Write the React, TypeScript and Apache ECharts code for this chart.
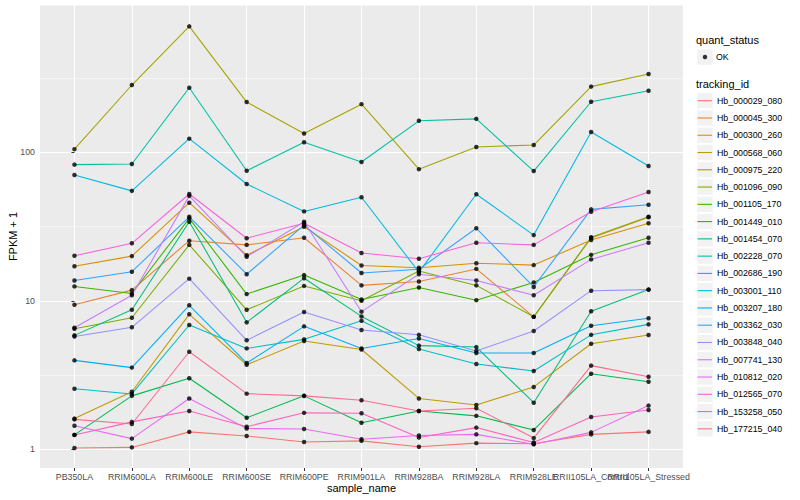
import React, { useEffect, useRef } from 'react';
import * as echarts from 'echarts';

const FONT = "'Liberation Sans', Arial, Helvetica, sans-serif";

const samples = [
  'PB350LA', 'RRIM600LA', 'RRIM600LE', 'RRIM600SE', 'RRIM600PE', 'RRIM901LA',
  'RRIM928BA', 'RRIM928LA', 'RRIM928LE', 'RRII105LA_Control', 'RRII105LA_Stressed',
];

const trackingIds = [
  'Hb_000029_080', 'Hb_000045_300', 'Hb_000300_260', 'Hb_000568_060', 'Hb_000975_220',
  'Hb_001096_090', 'Hb_001105_170', 'Hb_001449_010', 'Hb_001454_070', 'Hb_002228_070',
  'Hb_002686_190', 'Hb_003001_110', 'Hb_003207_180', 'Hb_003362_030', 'Hb_003848_040',
  'Hb_007741_130', 'Hb_010812_020', 'Hb_012565_070', 'Hb_153258_050', 'Hb_177215_040',
];

const colors = [
  '#F8766D', '#EA8331', '#D89000', '#C09B00', '#A3A500', '#7CAE00', '#39B600', '#00BB4E',
  '#00BF7D', '#00C1A3', '#00BFC4', '#00BAE0', '#00B0F6', '#35A2FF', '#9590FF', '#C77CFF',
  '#E76BF3', '#FA62DB', '#FF62BC', '#FF6C91',
];

// FPKM + 1 per sample (same order as samples)
const hb000029_080 = [1.02, 1.03, 1.31, 1.23, 1.12, 1.14, 1.04, 1.10, 1.09, 1.26, 1.31];
const hb000045_300 = [9.4, 11.8, 25.4, 23.8, 26.6, 12.7, 13.5, 16.4, 7.8, 26.5, 36.5];
const hb000300_260 = [17.1, 20.0, 45.8, 20.3, 31.5, 17.3, 16.7, 17.9, 17.4, 25.7, 33.3];
const hb000568_060 = [1.61, 2.44, 8.11, 3.71, 5.36, 4.7, 2.2, 1.99, 2.63, 5.14, 5.89];
const hb000975_220 = [105, 284, 705, 218, 134, 211, 77, 108.6, 112, 277, 337];
const hb001096_090 = [6.49, 7.69, 23.8, 8.7, 12.6, 10.0, 15.9, 12.7, 7.8, 26.8, 36.8];
const hb001105_170 = [12.5, 11.2, 35.9, 11.1, 14.9, 10.2, 12.3, 10.1, 13.3, 20.4, 26.6];
const hb001449_010 = [1.25, 2.29, 3.01, 1.63, 2.29, 1.51, 1.81, 1.68, 1.35, 3.23, 2.85];
const hb001454_070 = [5.85, 8.71, 34.1, 7.16, 14.2, 7.85, 4.99, 4.88, 2.06, 8.5, 11.9];
const hb002228_070 = [82.6, 83.4, 272, 75.2, 117, 86, 163, 168, 74.8, 219, 260];
const hb002686_190 = [2.56, 2.36, 6.87, 4.78, 5.5, 7.34, 4.73, 3.75, 3.37, 5.9, 6.94];
const hb003001_110 = [70.3, 55, 123.6, 61.2, 40, 49.8, 15.6, 52.2, 27.7, 137, 80.9];
const hb003207_180 = [3.97, 3.55, 9.33, 3.81, 6.73, 4.78, 5.58, 4.45, 4.45, 6.8, 7.63];
const hb003362_030 = [13.7, 15.7, 36.8, 15.1, 32.3, 15.4, 16.3, 30.8, 12.4, 41.3, 44.4];
const hb003848_040 = [5.75, 6.63, 14.1, 5.42, 8.4, 6.36, 5.9, 4.59, 6.26, 11.7, 11.9];
const hb007741_130 = [6.59, 10.9, 50.9, 19.8, 34.1, 8.45, 15.1, 13.7, 10.9, 19.0, 24.6];
const hb010812_020 = [1.44, 1.18, 2.2, 1.38, 1.37, 1.17, 1.24, 1.26, 1.08, 1.30, 1.97];
const hb012565_070 = [20.1, 24.4, 52.4, 26.4, 33.3, 21.0, 19.2, 24.6, 23.8, 39.8, 54];
const hb153258_050 = [1.25, 1.53, 1.81, 1.42, 1.76, 1.75, 1.20, 1.40, 1.11, 1.65, 1.84];
const hb177215_040 = [1.59, 1.48, 4.54, 2.37, 2.29, 2.14, 1.81, 1.89, 1.19, 3.66, 3.08];

const seriesValues = [
  hb000029_080, hb000045_300, hb000300_260, hb000568_060, hb000975_220,
  hb001096_090, hb001105_170, hb001449_010, hb001454_070, hb002228_070,
  hb002686_190, hb003001_110, hb003207_180, hb003362_030, hb003848_040,
  hb007741_130, hb010812_020, hb012565_070, hb153258_050, hb177215_040,
];

const quantStatus = ['OK'];
const yTickLabels = ['1', '10', '100'];
const yTickValues = [1, 10, 100];
const sampleTickValues = samples.map((_, i) => i);
// labels are split over two overlaid axes so that ECharts does not drop overlapping ones
const evenSampleTicks = sampleTickValues.filter((i) => i % 2 === 0);
const oddSampleTicks = sampleTickValues.filter((i) => i % 2 === 1);

// panel (ggplot) extent in data units
const Y_MIN = 0.7483;
const Y_MAX = 982;
const X_MIN = -0.6;
const X_MAX = 10.6;

export default function App() {
  const ref = useRef<HTMLDivElement>(null);

  useEffect(() => {
    const chart = echarts.init(ref.current as HTMLDivElement, null, { renderer: 'svg' });

    const lineSeries = trackingIds.map((id, k) => ({
      name: id,
      type: 'line',
      xAxisIndex: 0,
      yAxisIndex: 0,
      data: seriesValues[k].map((v, i) => [i, v]),
      symbol: 'none',
      showSymbol: false,
      color: colors[k],
      itemStyle: { color: colors[k] },
      lineStyle: { color: colors[k], width: 1.07 },
      z: 2,
      silent: true,
      animation: false,
    }));

    const pointData: number[][] = [];
    seriesValues.forEach((vals) => vals.forEach((v, i) => pointData.push([i, v])));

    const keyTop = 92.07;
    const keyStep = 17.27;

    const graphics: any[] = [
      { type: 'text', left: 696, top: 34, style: { text: 'quant_status', fontSize: 11, fill: '#000', fontFamily: FONT } },
      { type: 'rect', shape: { x: 697.3, y: 49.4, width: 15.4, height: 15.4 }, style: { fill: '#F2F2F2' }, z: 0, silent: true },
      { type: 'text', left: 696, top: 78, style: { text: 'tracking_id', fontSize: 11, fill: '#000', fontFamily: FONT } },
      ...trackingIds.map((_, i) => ({
        type: 'rect',
        shape: { x: 697.3, y: keyTop + keyStep * i + 0.95, width: 15.4, height: 15.4 },
        style: { fill: '#F2F2F2' },
        z: 0,
        silent: true,
      })),
    ];

    const isDecade = (v: number) => {
      const l = Math.log10(v);
      return Math.abs(l - Math.round(l)) < 1e-6;
    };

    const labelFor = (allowed: number[]) => (v: number) => {
      const r = Math.round(v);
      return Math.abs(v - r) < 1e-6 && allowed.indexOf(r) >= 0 ? samples[r] : '';
    };

    const xLabelBase = {
      show: true,
      fontSize: 8.8,
      color: '#4D4D4D',
      margin: 4,
      fontFamily: FONT,
      hideOverlap: false,
      showMinLabel: true,
      showMaxLabel: true,
    };

    chart.setOption({
      animation: false,
      backgroundColor: '#FFFFFF',
      textStyle: { fontFamily: FONT },
      grid: {
        left: 40, top: 5, width: 643, height: 463,
        show: true, backgroundColor: '#EBEBEB', borderWidth: 0, borderColor: 'transparent',
        containLabel: false, outerBoundsMode: 'none',
      },
      xAxis: [
        {
          type: 'value',
          position: 'bottom',
          offset: 0,
          min: X_MIN,
          max: X_MAX,
          splitNumber: 11,
          minInterval: 1,
          maxInterval: 1,
          name: 'sample_name',
          nameLocation: 'middle',
          nameGap: 13.8,
          nameMoveOverlap: false,
          nameTextStyle: { fontSize: 11, color: '#000', fontFamily: FONT, lineHeight: 13 },
          axisLine: { show: false },
          axisTick: { show: true, length: 3, lineStyle: { color: '#333333', width: 1 }, customValues: sampleTickValues },
          axisLabel: { ...xLabelBase, customValues: evenSampleTicks, formatter: labelFor(evenSampleTicks) },
          splitLine: { show: true, lineStyle: { color: '#FFFFFF', width: 1.07 } },
        },
        {
          type: 'value',
          position: 'bottom',
          offset: 0,
          min: X_MIN,
          max: X_MAX,
          splitNumber: 11,
          minInterval: 1,
          maxInterval: 1,
          axisLine: { show: false },
          axisTick: { show: false },
          axisLabel: { ...xLabelBase, customValues: oddSampleTicks, formatter: labelFor(oddSampleTicks) },
          splitLine: { show: false },
        },
      ],
      yAxis: [
        {
          type: 'log',
          logBase: 10,
          min: Y_MIN,
          max: Y_MAX,
          name: 'FPKM + 1',
          nameLocation: 'middle',
          nameGap: 20.5,
          nameMoveOverlap: false,
          nameTextStyle: { fontSize: 11, color: '#000', fontFamily: FONT, lineHeight: 13 },
          axisLine: { show: false },
          axisTick: { show: true, length: 3, lineStyle: { color: '#333333', width: 1 }, customValues: yTickValues },
          axisLabel: {
            fontSize: 8.8,
            color: '#4D4D4D',
            margin: 5,
            fontFamily: FONT,
            showMinLabel: true,
            showMaxLabel: true,
            formatter: (v: number) => {
              if (!isDecade(v)) return '';
              const lbl = String(Math.round(v));
              return yTickLabels.indexOf(lbl) >= 0 ? lbl : '';
            },
          },
          splitLine: { show: true, lineStyle: { color: '#FFFFFF', width: 1.07 } },
          minorTick: { show: false },
          minorSplitLine: { show: false },
        },
        {
          // minor breaks (half-decades): same scale shifted by sqrt(10)
          type: 'log',
          logBase: 10,
          min: Y_MIN / Math.sqrt(10),
          max: Y_MAX / Math.sqrt(10),
          position: 'left',
          axisLine: { show: false },
          axisTick: { show: false },
          axisLabel: { show: false },
          splitLine: { show: true, lineStyle: { color: '#FFFFFF', width: 0.53 } },
        },
      ],
      legend: [
        {
          data: quantStatus,
          orient: 'vertical',
          left: 702.75,
          top: 48.5,
          padding: 0,
          itemWidth: 4.5,
          itemHeight: 4.5,
          icon: 'circle',
          selectedMode: false,
          textStyle: { fontSize: 8.8, color: '#000', fontFamily: FONT, lineHeight: 17, padding: [0, 0, 0, 3.75] },
        },
        {
          data: trackingIds,
          orient: 'vertical',
          left: 697.5,
          top: keyTop,
          padding: 0,
          itemGap: 0,
          itemWidth: 14.5,
          itemHeight: 1.1,
          icon: 'rect',
          selectedMode: false,
          textStyle: { fontSize: 8.8, color: '#000', fontFamily: FONT, lineHeight: keyStep },
        },
      ],
      graphic: graphics,
      series: [
        ...lineSeries,
        {
          name: quantStatus[0],
          type: 'scatter',
          xAxisIndex: 0,
          yAxisIndex: 0,
          data: pointData,
          symbol: 'circle',
          symbolSize: 4.5,
          itemStyle: { color: '#000000' },
          color: '#000000',
          z: 3,
          silent: true,
          animation: false,
        },
      ],
    });

    return () => chart.dispose();
  }, []);

  return (
    <div
      ref={ref}
      style={{ position: 'absolute', left: 0, top: 0, width: 800, height: 500 }}
    />
  );
}
